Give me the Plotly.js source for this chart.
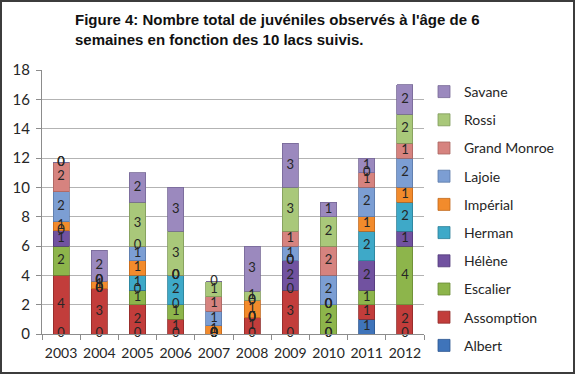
<!DOCTYPE html>
<html>
<head>
<meta charset="utf-8">
<script src="https://cdn.plot.ly/plotly-3.0.1.min.js"></script>
<style>
  html, body { margin: 0; padding: 0; background: #ffffff; }
  #wrap { position: relative; width: 575px; height: 376px; }
  #chart { position: absolute; left: 0; top: 0; width: 575px; height: 376px; }
  #frame { position: absolute; left: 0; top: 0; width: 571px; height: 370px; border: 2px solid #3c3c3c; pointer-events: none; }
</style>
</head>
<body>
<div id="wrap"><div id="chart"></div><div id="frame"></div></div>
<script>
// ---- data ----
const years = ['2003', '2004', '2005', '2006', '2007', '2008', '2009', '2010', '2011', '2012'];
const albert      = [0,    0,   0, 0, 0,    0,   0, 0, 1, 0];
const assomption  = [4,    3.1, 2, 1, 0,    1.1, 3, 0, 1, 2];
const escalier    = [2,    0,   1, 1, 0,    0,   0, 2, 1, 4];
const helene      = [1.05, 0,   0, 0, 0,    0,   2, 0, 2, 1];
const herman      = [0,    0,   1, 2, 0,    0,   0, 0, 2, 2];
const imperial    = [0.6,  0.5, 1, 0, 0.55, 1.2, 0, 0, 1, 1];
const lajoie      = [2.05, 0,   1, 0, 1,    0,   1, 2, 2, 2];
const grandMonroe = [2,    0,   0, 0, 1,    0,   1, 2, 1, 1];
const rossi       = [0,    0,   3, 3, 1,    0.6, 3, 2, 0, 2];
const savane      = [0,    2.1, 2, 3, 0,    3.1, 3, 1, 1, 2];

const seriesNames = ['Albert', 'Assomption', 'Escalier', 'Hélène', 'Herman', 'Impérial', 'Lajoie', 'Grand Monroe', 'Rossi', 'Savane'];
const seriesValues = [albert, assomption, escalier, helene, herman, imperial, lajoie, grandMonroe, rossi, savane];
const seriesColors = ['#3F74BA', '#C23D3B', '#8DB54B', '#7152A0', '#3EA9C8', '#F28B2C', '#7C9ED3', '#D6837F', '#A9C87A', '#9B89BE'];
const lineColors   = ['#2c5690', '#8f2b29', '#6a8a35', '#523a78', '#2b7f97', '#c0681d', '#5a78a8', '#a86460', '#7f9a5a', '#766896'];

const traces = [];
seriesNames.forEach((name, i) => {
  traces.push({
    type: 'bar',
    name: name,
    x: years,
    y: seriesValues[i],
    legendgroup: 'g' + i,
    legendrank: 100 - i,
    marker: { color: seriesColors[i], line: { color: lineColors[i], width: 0.8 } },
    hoverinfo: 'x+y+name'
  });
});

// data labels (centred on each segment, including the zero ones)
const lx = [], ly = [], lt = [];
const cum = years.map(() => 0);
seriesValues.forEach(vals => {
  vals.forEach((v, j) => {
    lx.push(years[j]);
    ly.push(cum[j] + v / 2);
    lt.push(String(Math.round(v)));
    cum[j] += v;
  });
});
traces.push({
  type: 'scatter',
  mode: 'text',
  x: lx, y: ly, text: lt,
  textfont: { family: 'Lato, Carlito, sans-serif', size: 13, color: '#262626' },
  textposition: 'middle center',
  showlegend: false,
  hoverinfo: 'skip',
  cliponaxis: false
});

const layout = {
  width: 575,
  height: 376,
  paper_bgcolor: '#ffffff',
  plot_bgcolor: '#ffffff',
  margin: { l: 42, r: 151, t: 70, b: 42, pad: 0 },
  barmode: 'stack',
  bargap: 0.58,
  font: { family: 'Lato, Carlito, sans-serif', size: 14, color: '#262626' },
  title: {
    text: '<b>Figure 4: Nombre total de juvéniles observés à l\'âge de 6<br>semaines en fonction des 10 lacs suivis.</b>',
    font: { family: 'Liberation Sans, Arial, sans-serif', size: 15, color: '#111111' },
    xref: 'container', yref: 'container',
    x: 75 / 575, xanchor: 'left',
    y: 1 - 25 / 376, yanchor: 'top'
  },
  xaxis: {
    type: 'category',
    showline: true, linecolor: '#8c8c8c', linewidth: 1,
    ticks: 'outside', ticklen: 5, tickcolor: '#8c8c8c', tickson: 'boundaries',
    tickangle: 0, ticklabelstandoff: 6,
    tickfont: { family: 'Lato, Carlito, sans-serif', size: 14, color: '#262626' },
    showgrid: false, zeroline: false, fixedrange: true
  },
  yaxis: {
    range: [0, 18], dtick: 2, tick0: 0,
    showline: true, linecolor: '#8c8c8c', linewidth: 1,
    ticks: 'outside', ticklen: 5, tickcolor: '#8c8c8c',
    ticklabelstandoff: 3,
    tickfont: { family: 'Lato, Carlito, sans-serif', size: 15, color: '#262626' },
    showgrid: true, gridcolor: '#b3b3b3', gridwidth: 1,
    zeroline: false, fixedrange: true
  },
  legend: {
    traceorder: 'grouped',
    x: 1.0, xanchor: 'left', xref: 'paper',
    y: 1 - 6 / 264, yanchor: 'top', yref: 'paper',
    tracegroupgap: 7,
    maxheight: 330,
    font: { family: 'Lato, Carlito, sans-serif', size: 14, color: '#262626' },
    bgcolor: 'rgba(0,0,0,0)'
  },
  showlegend: true
};

Plotly.newPlot('chart', traces, layout, { displayModeBar: false, staticPlot: true });
</script>
</body>
</html>
